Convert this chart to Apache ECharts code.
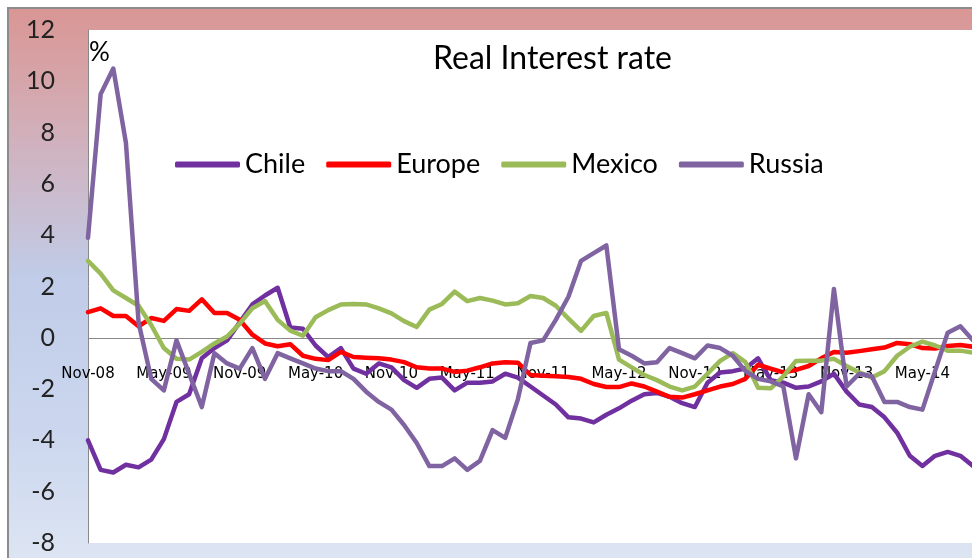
<!DOCTYPE html>
<html>
<head>
<meta charset="utf-8">
<script src="https://cdn.jsdelivr.net/npm/echarts@6/dist/echarts.min.js"></script>
<style>
html,body{margin:0;padding:0;background:#fff;}
#wrap{position:relative;width:972px;height:558px;overflow:hidden;}
#frame{position:absolute;left:7px;top:7px;width:970px;height:560px;border-top:2px solid #8c8c8c;border-left:2px solid #8c8c8c;
background:linear-gradient(to bottom,#D99694 0%,#D6A4A8 12%,#CDB8C8 30%,#C0CCE8 48%,#CBD6EE 75%,#DEE6F3 100%);}
#chart{position:absolute;left:0;top:0;width:972px;height:558px;}
</style>
</head>
<body>
<div id="wrap"><div id="frame"></div><div id="chart"></div></div>
<script>
const months = ["Nov-08","Dec-08","Jan-09","Feb-09","Mar-09","Apr-09","May-09","Jun-09","Jul-09","Aug-09","Sep-09","Oct-09",
"Nov-09","Dec-09","Jan-10","Feb-10","Mar-10","Apr-10","May-10","Jun-10","Jul-10","Aug-10","Sep-10","Oct-10",
"Nov-10","Dec-10","Jan-11","Feb-11","Mar-11","Apr-11","May-11","Jun-11","Jul-11","Aug-11","Sep-11","Oct-11",
"Nov-11","Dec-11","Jan-12","Feb-12","Mar-12","Apr-12","May-12","Jun-12","Jul-12","Aug-12","Sep-12","Oct-12",
"Nov-12","Dec-12","Jan-13","Feb-13","Mar-13","Apr-13","May-13","Jun-13","Jul-13","Aug-13","Sep-13","Oct-13",
"Nov-13","Dec-13","Jan-14","Feb-14","Mar-14","Apr-14","May-14","Jun-14","Jul-14","Aug-14","Sep-14"];

const chile = [-4.0,-5.15,-5.25,-4.95,-5.05,-4.75,-3.95,-2.5,-2.2,-0.8,-0.4,-0.1,
0.6,1.3,1.65,1.95,0.4,0.35,-0.3,-0.75,-0.4,-1.2,-1.4,-1.0,
-1.15,-1.65,-1.95,-1.6,-1.55,-2.05,-1.75,-1.75,-1.7,-1.4,-1.55,-1.9,
-2.25,-2.6,-3.1,-3.15,-3.3,-3.0,-2.75,-2.45,-2.2,-2.15,-2.3,-2.55,
-2.7,-1.75,-1.35,-1.3,-1.2,-0.8,-1.65,-1.75,-1.95,-1.9,-1.7,-1.4,
-2.1,-2.6,-2.7,-3.1,-3.7,-4.6,-5.0,-4.6,-4.45,-4.6,-5.0];

const europe = [1.0,1.15,0.85,0.85,0.45,0.77,0.66,1.12,1.05,1.5,0.97,0.97,
0.7,0.12,-0.22,-0.33,-0.25,-0.7,-0.82,-0.87,-0.55,-0.75,-0.78,-0.8,
-0.85,-0.95,-1.15,-1.2,-1.2,-1.33,-1.28,-1.15,-1.0,-0.95,-0.97,-1.45,
-1.48,-1.5,-1.53,-1.6,-1.8,-1.92,-1.92,-1.78,-1.9,-2.1,-2.3,-2.33,
-2.2,-2.05,-1.9,-1.8,-1.6,-1.05,-1.2,-1.35,-1.25,-1.1,-0.8,-0.55,
-0.58,-0.52,-0.45,-0.38,-0.2,-0.25,-0.4,-0.42,-0.32,-0.28,-0.35];

const mexico = [3.0,2.5,1.85,1.55,1.25,0.5,-0.4,-0.82,-0.85,-0.55,-0.22,0.05,
0.55,1.15,1.43,0.7,0.28,0.08,0.8,1.08,1.3,1.32,1.3,1.15,
0.95,0.65,0.42,1.1,1.32,1.8,1.43,1.55,1.45,1.3,1.35,1.63,
1.55,1.25,0.75,0.27,0.85,0.97,-0.85,-1.15,-1.45,-1.65,-1.9,-2.05,
-1.9,-1.4,-0.9,-0.6,-0.95,-1.95,-1.97,-1.5,-0.9,-0.89,-0.89,-0.82,
-1.1,-1.35,-1.55,-1.3,-0.7,-0.35,-0.15,-0.3,-0.5,-0.5,-0.58];

const russia = [3.9,9.5,10.5,7.6,0.6,-1.6,-2.05,-0.1,-1.4,-2.7,-0.6,-1.0,
-1.2,-0.4,-1.6,-0.6,-0.8,-1.0,-1.2,-1.3,-1.3,-1.6,-2.1,-2.5,
-2.8,-3.4,-4.1,-5.0,-5.0,-4.7,-5.15,-4.8,-3.6,-3.9,-2.4,-0.2,
-0.1,0.7,1.6,3.0,3.3,3.6,-0.45,-0.7,-1.0,-0.95,-0.4,-0.6,
-0.8,-0.3,-0.4,-0.7,-1.3,-1.6,-1.7,-1.9,-4.7,-2.2,-2.9,1.9,
-1.9,-1.4,-1.5,-2.5,-2.5,-2.7,-2.8,-1.3,0.2,0.45,-0.1];

const seriesNames = ["Chile","Europe","Mexico","Russia"];
const seriesColors = ["#7030A0","#FF0000","#9BBB59","#8064A2"];
const seriesData = [chile, europe, mexico, russia];

const yMin = -8, yMax = 12;
const gridTop = 30, gridBottom = 15, chartH = 558;
// distance from the bottom of the plot to the zero line, used to lift the category labels
const zeroLift = (chartH - gridTop - gridBottom) * (0 - yMin) / (yMax - yMin);

const chart = echarts.init(document.getElementById('chart'), null, {renderer:'canvas'});
chart.setOption({
  animation:false,
  backgroundColor:'transparent',
  title:{
    text:'Real Interest rate', left:428, top:38,
    textStyle:{fontFamily:'Lato', fontSize:32, fontWeight:'normal', color:'#000'}
  },
  graphic:[{
    type:'text', left:89, top:40,
    style:{text:'%', font:'26px Lato', fill:'#000'}
  }],
  legend:{
    left:170, top:146, itemWidth:65, itemHeight:6, itemGap:21, icon:'roundRect',
    data:seriesNames,
    textStyle:{fontFamily:'Lato', fontSize:27, color:'#000'}
  },
  grid:{left:88, top:gridTop, right:-1, bottom:gridBottom, show:true, backgroundColor:'#fff', borderWidth:0,
        containLabel:false, outerBoundsMode:'none'},
  xAxis:{
    type:'category', data:months, boundaryGap:false, position:'bottom',
    axisLine:{show:false, onZero:false},
    axisTick:{show:false},
    axisLabel:{interval:5, margin:-(zeroLift - 29), fontFamily:'DejaVu Sans', fontSize:15, color:'#000'},
    splitLine:{show:false}
  },
  yAxis:{
    type:'value', min:yMin, max:yMax, interval:2,
    axisLine:{show:true, lineStyle:{color:'#888', width:1}},
    axisTick:{show:false},
    splitLine:{show:false},
    axisLabel:{margin:33, fontFamily:'Lato', fontSize:25, color:'#222'}
  },
  series: seriesNames.map((n,i)=>{
    const s = {
      name:n, type:'line', data:seriesData[i], symbol:'none', smooth:false,
      lineStyle:{color:seriesColors[i], width:4.5, join:'round', cap:'round'},
      itemStyle:{color:seriesColors[i]}
    };
    if (i === 0) {
      s.markLine = {silent:true, symbol:'none', label:{show:false}, z:1,
        lineStyle:{color:'#888', width:1, type:'solid'}, data:[{yAxis:0}]};
    }
    return s;
  })
});
</script>
</body>
</html>
